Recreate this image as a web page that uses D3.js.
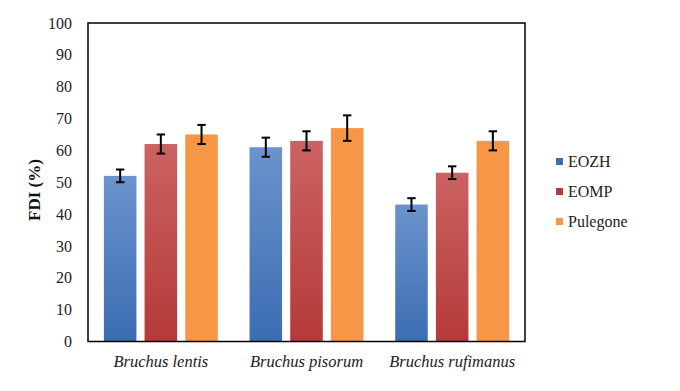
<!DOCTYPE html>
<html>
<head>
<meta charset="utf-8">
<script src="https://cdn.jsdelivr.net/npm/d3@7"></script>
<style>
  body { margin: 0; background: #fff; }
</style>
</head>
<body>
<div id="chart"></div>
<script>
var categories = ["Bruchus lentis", "Bruchus pisorum", "Bruchus rufimanus"];
var series = ["EOZH", "EOMP", "Pulegone"];
var eozh = [52, 61, 43];
var eomp = [62, 63, 53];
var pulegone = [65, 67, 63];
var eozh_err = [2, 3, 2];
var eomp_err = [3, 3, 2];
var pulegone_err = [3, 4, 3];
var y_ticks = [0, 10, 20, 30, 40, 50, 60, 70, 80, 90, 100];

var values = [eozh, eomp, pulegone];
var errors = [eozh_err, eomp_err, pulegone_err];

var width = 680;
var height = 391;
var left = 88, top_ = 23, right = 525, bottom = 341.5;
var serif = "'Liberation Serif'";

var svg = d3.select("#chart").append("svg")
            .attr("width", width)
            .attr("height", height)
            .style("font-family", serif);

var defs = svg.append("defs");
var grads = [["#6b93cd", "#3a6db2"], ["#cb6362", "#b43a39"], ["#f79646", "#f79646"]];
grads.forEach(function(g, i){
    var lg = defs.append("linearGradient")
                .attr("id", "grad" + i)
                .attr("x1", 0).attr("y1", 0).attr("x2", 0).attr("y2", 1);
    lg.append("stop").attr("offset", "0%").attr("stop-color", g[0]);
    lg.append("stop").attr("offset", "100%").attr("stop-color", g[1]);
});

var x0 = d3.scaleBand().domain(categories).range([left, right]).padding(0);
var x1 = d3.scaleBand().domain(series).range([0, x0.bandwidth()])
           .paddingInner(0.2).paddingOuter(0.39);
var y = d3.scaleLinear().domain([0, 100]).range([bottom, top_]);

// bars
var rows = [];
categories.forEach(function(c, ci){
    series.forEach(function(s, si){
        rows.push({cat: c, ser: s, si: si, v: values[si][ci], e: errors[si][ci]});
    });
});

svg.selectAll("rect.bar").data(rows).enter().append("rect")
    .attr("class", "bar")
    .attr("x", function(d){ return x0(d.cat) + x1(d.ser); })
    .attr("y", function(d){ return y(d.v); })
    .attr("width", x1.bandwidth())
    .attr("height", function(d){ return y(0) - y(d.v); })
    .attr("fill", function(d){ return "url(#grad" + d.si + ")"; });

// error bars
var eb = svg.selectAll("g.err").data(rows).enter().append("g")
    .attr("class", "err")
    .attr("stroke", "#000")
    .attr("stroke-width", 2);
function cx(d){ return x0(d.cat) + x1(d.ser) + x1.bandwidth() / 2; }
eb.append("line")
    .attr("x1", cx).attr("x2", cx)
    .attr("y1", function(d){ return y(d.v + d.e); })
    .attr("y2", function(d){ return y(d.v - d.e); });
eb.append("line")
    .attr("x1", function(d){ return cx(d) - 4.2; })
    .attr("x2", function(d){ return cx(d) + 4.2; })
    .attr("y1", function(d){ return y(d.v + d.e); })
    .attr("y2", function(d){ return y(d.v + d.e); });
eb.append("line")
    .attr("x1", function(d){ return cx(d) - 4.2; })
    .attr("x2", function(d){ return cx(d) + 4.2; })
    .attr("y1", function(d){ return y(d.v - d.e); })
    .attr("y2", function(d){ return y(d.v - d.e); });

// frame
svg.append("rect")
    .attr("x", left).attr("y", top_)
    .attr("width", right - left).attr("height", bottom - top_)
    .attr("fill", "none")
    .attr("stroke", "#000")
    .attr("stroke-width", 1.5);

// y axis
var yAxis = svg.append("g")
    .attr("transform", "translate(" + left + ",0)")
    .call(d3.axisLeft(y).tickValues(y_ticks).tickSize(0).tickPadding(16))
    .attr("font-family", null);
yAxis.select(".domain").remove();
yAxis.selectAll("text")
    .style("font-family", serif)
    .style("font-size", "16px")
    .attr("fill", "#222");

// x labels
var xAxis = svg.append("g")
    .attr("transform", "translate(0," + bottom + ")")
    .call(d3.axisBottom(x0).tickSize(0).tickPadding(13.5))
    .attr("font-family", null);
xAxis.select(".domain").remove();
xAxis.selectAll("text")
    .style("font-family", serif)
    .style("font-style", "italic")
    .style("font-size", "16.5px")
    .attr("fill", "#222");

// y label
svg.append("text")
    .attr("transform", "translate(40," + 190 + ") rotate(-90)")
    .attr("text-anchor", "middle")
    .style("font-family", serif)
    .style("font-size", "17px")
    .style("font-weight", "bold")
    .attr("fill", "#111")
    .text("FDI (%)");

// legend
var legend = svg.selectAll("g.leg").data(series).enter().append("g")
    .attr("class", "leg")
    .attr("transform", function(d, i){ return "translate(556," + (167 + i * 30) + ")"; });
legend.append("rect")
    .attr("x", 0).attr("y", -9)
    .attr("width", 7).attr("height", 7)
    .attr("fill", function(d, i){ return grads[i][1]; });
legend.append("text")
    .attr("x", 12).attr("y", 0)
    .style("font-family", serif)
    .style("font-size", "16px")
    .attr("fill", "#222")
    .text(function(d){ return d; });
</script>
</body>
</html>
